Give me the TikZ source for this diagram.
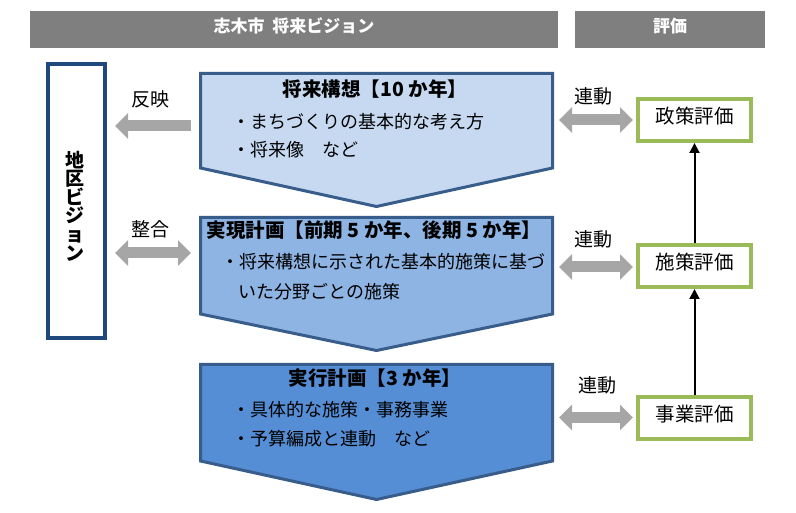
\documentclass[tikz,border=0pt]{standalone}
\usepackage{fontspec}
\setmainfont{Noto Sans CJK JP}
\usetikzlibrary{arrows.meta}
\definecolor{hdrgray}{HTML}{7F7F7F}
\definecolor{arrgray}{HTML}{A6A6A6}
\definecolor{chevline}{HTML}{385D8A}
\definecolor{cfillA}{HTML}{C6D9F1}
\definecolor{cfillB}{HTML}{8EB4E3}
\definecolor{cfillC}{HTML}{558ED5}
\definecolor{navy}{HTML}{1F497D}
\definecolor{evgreen}{HTML}{9BBB59}
\tikzset{
  gtip/.tip={Triangle[length=13pt,width=25pt]},
  btip/.tip={Triangle[length=10pt,width=10pt]},
  hdrbox/.style={fill=hdrgray, text=white, inner sep=0pt, text height=0.8em, text depth=0.1em, font=\fontsize{17pt}{20pt}\selectfont\bfseries},
  chevron/.style={draw=chevline, line width=3pt},
  ttl/.style={inner sep=0pt, text height=0.8em, text depth=0.1em, font=\fontsize{19.5pt}{22pt}\selectfont\bfseries},
  bul/.style={inner sep=0pt, anchor=west, text height=0.8em, text depth=0.1em, font=\fontsize{18pt}{20pt}\selectfont},
  lbl/.style={inner sep=0pt, text height=0.8em, text depth=0.1em, font=\fontsize{19pt}{22pt}\selectfont},
  evbox/.style={draw=evgreen, line width=4pt, fill=white, minimum width=113pt, minimum height=42pt, inner sep=0pt, outer sep=2pt, text height=0.8em, text depth=0.1em, font=\fontsize{19.5pt}{22pt}\selectfont},
  grayarrow/.style={draw=arrgray, line width=11pt},
  blackarrow/.style={draw=black, line width=2pt, -btip},
}
\begin{document}
\begin{tikzpicture}[x=1pt,y=-1pt]
\useasboundingbox (0,0) rectangle (796,513);
% headers
\node[hdrbox, minimum width=528pt, minimum height=37pt] (h1) at (294,29.5) {志木市\hspace{0.45em}将来ビジョン};
\node[hdrbox, minimum width=190pt, minimum height=37pt] (h2) at (670,29.5) {評価};
% left box
\node[draw=navy, line width=4pt, minimum width=57pt, minimum height=274pt, inner sep=0pt] (lv) at (76.5,201) {};
\node[inner sep=0pt, align=center, font=\fontsize{19pt}{18.6pt}\selectfont\bfseries] (lvt) at (75,206) {地\\区\\ビ\\ジ\\ョ\\ン};
% chevrons
\draw[chevron, fill=cfillA] (200.5,73.5) -- (552.5,73.5) -- (552.5,168) -- (376.5,206.5) -- (200.5,168) -- cycle;
\draw[chevron, fill=cfillB] (200.5,217.5) -- (552.5,217.5) -- (552.5,314) -- (376.5,350.5) -- (200.5,314) -- cycle;
\draw[chevron, fill=cfillC] (200.5,364.5) -- (552.5,364.5) -- (552.5,461) -- (376.5,499.5) -- (200.5,461) -- cycle;
% chevron texts
\node[ttl] (t1) at (375,93) {将来構想【10 か年】};
\node[bul] (b11) at (232,125) {・まちづくりの基本的な考え方};
\node[bul] (b12) at (232,153) {・将来像　など};
\node[ttl] (t2) at (374,234.5) {実現計画【前期 5 か年、後期 5 か年】};
\node[bul] (b21) at (221,265) {・将来構想に示された基本的施策に基づ};
\node[bul] (b22) at (238,295) {いた分野ごとの施策};
\node[ttl] (t3) at (375,382) {実行計画【3 か年】};
\node[bul] (b31) at (232,413) {・具体的な施策・事務事業};
\node[bul] (b32) at (232,442) {・予算編成と連動　など};
% evaluation boxes
\node[evbox] (e1) at (694.5,120) {政策評価};
\node[evbox] (e2) at (694.5,266) {施策評価};
\node[evbox] (e3) at (694.5,417.5) {事業評価};
% gray arrows
\coordinate (p1a) at (191,126); \coordinate (p1b) at (115,126);
\coordinate (p2a) at (191,253); \coordinate (p2b) at (115,253);
\coordinate (q1a) at (559,120); \coordinate (q1b) at (633,120);
\coordinate (q2a) at (559,267); \coordinate (q2b) at (633,267);
\coordinate (q3a) at (559,417.5); \coordinate (q3b) at (633,417.5);
\draw[grayarrow, -gtip] (p1a) -- (p1b);
\draw[grayarrow, gtip-gtip] (p2b) -- (p2a);
\draw[grayarrow, gtip-gtip] (q1a) -- (q1b);
\draw[grayarrow, gtip-gtip] (q2a) -- (q2b);
\draw[grayarrow, gtip-gtip] (q3a) -- (q3b);
% labels
\node[lbl] (l1) at (150,103) {反映};
\node[lbl] (l2) at (150,233) {整合};
\node[lbl] (l3) at (593,100) {連動};
\node[lbl] (l4) at (593,243) {連動};
\node[lbl] (l5) at (597,389) {連動};
% black arrows
\draw[blackarrow] (e2.north) -- (e1.south);
\draw[blackarrow] (e3.north) -- (e2.south);
\end{tikzpicture}
\end{document}
